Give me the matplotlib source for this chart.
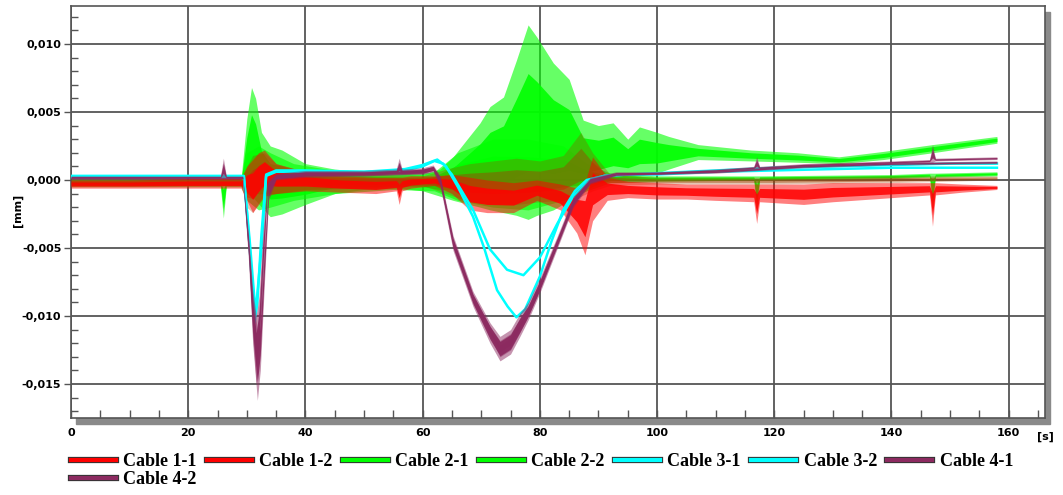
import numpy as np
import matplotlib
matplotlib.use("Agg")
import matplotlib.pyplot as plt
from matplotlib.patches import Rectangle
from matplotlib.lines import Line2D
from matplotlib.ticker import MultipleLocator, FuncFormatter
import matplotlib.patheffects as pe

# ---- data (time in s, displacement in mm) ----
# oscillating signals are kept as lower / upper envelope
c11_t  = [0, 10, 20, 29, 30, 31, 32, 33, 35, 40, 46, 52, 55.5, 56, 56.5, 58, 62, 65, 68, 71, 75.5, 79.5, 83.5, 86.3, 87.7, 89, 91.5, 95, 100, 105, 110, 116.5, 117, 117.5, 125, 130, 140, 146.5, 147, 147.5, 152, 158]
c11_lo = [-0.0006, -0.0006, -0.0006, -0.0006, -0.0015, -0.0024, -0.0018, -0.0012, -0.0010, -0.0008, -0.0009, -0.0010, -0.0008, -0.0018, -0.0008, -0.0006, -0.0004, -0.0010, -0.0022, -0.0024, -0.0024, -0.0015, -0.0022, -0.0039, -0.0055, -0.0030, -0.0015, -0.0013, -0.0014, -0.0014, -0.0015, -0.0016, -0.0032, -0.0016, -0.0018, -0.0016, -0.0013, -0.0011, -0.0034, -0.0011, -0.0009, -0.0007]
c11_hi = [0.0000, 0.0000, 0.0001, 0.0001, 0.0010, 0.0015, 0.0020, 0.0022, 0.0012, 0.0006, 0.0003, 0.0002, 0.0002, 0.0002, 0.0002, 0.0003, 0.0003, 0.0004, 0.0002, 0.0000, -0.0002, 0.0000, -0.0003, -0.0006, -0.0002, 0.0017, 0.0002, -0.0001, -0.0002, -0.0003, -0.0003, -0.0003, -0.0003, -0.0003, -0.0003, -0.0002, -0.0002, -0.0002, -0.0002, -0.0002, -0.0003, -0.0004]

c12_t  = [0, 29, 30, 31, 33, 35, 40, 50, 60, 64, 68, 72, 76, 80, 84, 87, 89, 92, 100, 120, 140, 158]
c12_lo = [-0.0004, -0.0004, -0.0020, -0.0024, -0.0010, -0.0010, -0.0007, -0.0006, -0.0004, -0.0010, -0.0016, -0.0018, -0.0018, -0.0016, -0.0015, -0.0012, -0.0008, -0.0004, -0.0003, -0.0003, -0.0002, 0.0000]
c12_hi = [0.0001, 0.0001, 0.0010, 0.0018, 0.0020, 0.0012, 0.0006, 0.0004, 0.0003, 0.0008, 0.0012, 0.0014, 0.0016, 0.0014, 0.0018, 0.0035, 0.0020, 0.0004, 0.0002, 0.0002, 0.0003, 0.0003]

c21_t  = [0, 29, 30, 30.8, 31.5, 32.5, 34, 36, 40, 45, 50, 56, 60, 63, 65.2, 69.8, 71.5, 73.8, 76, 78, 79.5, 82.3, 85, 87.4, 90, 92.5, 95, 97, 100, 102, 107, 116, 124, 131, 138.6, 147, 158]
c21_lo = [-0.0004, -0.0004, -0.0010, -0.0012, -0.0015, -0.0020, -0.0027, -0.0025, -0.0018, -0.0010, -0.0007, -0.0006, -0.0008, -0.0012, -0.0015, -0.0020, -0.0022, -0.0024, -0.0026, -0.0029, -0.0026, -0.0022, -0.0015, -0.0008, -0.0003, 0.0000, 0.0002, 0.0003, 0.0005, 0.0008, 0.0015, 0.0014, 0.0013, 0.0012, 0.0015, 0.0020, 0.0027]
c21_hi = [0.0000, 0.0000, 0.0045, 0.0068, 0.0060, 0.0035, 0.0025, 0.0022, 0.0012, 0.0008, 0.0006, 0.0005, 0.0004, 0.0008, 0.0017, 0.0042, 0.0054, 0.0061, 0.0088, 0.0114, 0.0105, 0.0086, 0.0074, 0.0044, 0.0040, 0.0042, 0.0030, 0.0039, 0.0035, 0.0032, 0.0026, 0.0022, 0.0020, 0.0017, 0.0021, 0.0026, 0.0032]

c22_t  = [0, 25.5, 26, 26.5, 29, 30, 32, 34, 38, 45, 55, 62, 66, 72, 78, 84, 88, 92, 100, 116.5, 117, 117.5, 140, 146.5, 147, 147.5, 158]
c22_lo = [-0.0005, -0.0005, -0.0028, -0.0005, -0.0005, -0.0015, -0.0022, -0.0020, -0.0015, -0.0010, -0.0007, -0.0008, -0.0015, -0.0020, -0.0022, -0.0015, -0.0008, -0.0002, -0.0001, 0.0000, -0.0022, 0.0000, 0.0001, 0.0002, -0.0020, 0.0002, 0.0003]
c22_hi = [0.0000, 0.0000, 0.0000, 0.0000, 0.0000, 0.0020, 0.0025, 0.0020, 0.0012, 0.0007, 0.0004, 0.0006, 0.0020, 0.0030, 0.0030, 0.0025, 0.0012, 0.0005, 0.0003, 0.0003, 0.0003, 0.0003, 0.0004, 0.0005, 0.0005, 0.0005, 0.0006]

c31_t = [0, 20, 29.5, 30.5, 31.5, 32.5, 33.3, 35, 40, 50, 57, 60, 62, 63.5, 65, 68.6, 71.5, 74.4, 77.2, 80, 83, 85.7, 88, 91, 95, 100, 110, 120, 130, 140, 150, 158]
c31_v = [0.0002, 0.0002, 0.0002, -0.0045, -0.0098, -0.0050, 0.0003, 0.0006, 0.0006, 0.0006, 0.0007, 0.0010, 0.0014, 0.0012, 0.0004, -0.0022, -0.0051, -0.0066, -0.0070, -0.0057, -0.0032, -0.0012, -0.0002, 0.0003, 0.0004, 0.0005, 0.0007, 0.0009, 0.0010, 0.0011, 0.0012, 0.0012]

c32_t = [0, 20, 29.5, 30.5, 31.3, 31.8, 32.5, 33.3, 35, 40, 50, 57, 60, 62.5, 64, 66, 68.6, 70.5, 72.7, 74.5, 76, 77.5, 80, 82, 84, 86, 88, 91, 95, 100, 110, 120, 130, 140, 150, 158]
c32_v = [0.0003, 0.0003, 0.0003, -0.0050, -0.0105, -0.0090, -0.0040, 0.0004, 0.0007, 0.0007, 0.0006, 0.0008, 0.0011, 0.0015, 0.0010, -0.0005, -0.0027, -0.0050, -0.0081, -0.0093, -0.0101, -0.0095, -0.0071, -0.0045, -0.0022, -0.0008, 0.0000, 0.0003, 0.0004, 0.0004, 0.0006, 0.0007, 0.0008, 0.0009, 0.0009, 0.0009]

c41_t  = [0, 20, 25.5, 26, 26.5, 29.3, 30.3, 31.0, 31.6, 32.1, 32.7, 33.5, 35, 40, 50, 55.5, 56, 56.5, 60, 61.8, 63, 65.2, 68.6, 71.5, 73.2, 75, 76.6, 78, 80, 83, 85.7, 88.6, 93, 100, 110, 116.5, 117, 117.5, 125, 140, 146.5, 147, 147.5, 158]
c41_lo = [0.0001, 0.0001, 0.0001, 0.0001, 0.0001, 0.0001, -0.0055, -0.0115, -0.0150, -0.0130, -0.0075, -0.0010, 0.0001, 0.0003, 0.0003, 0.0004, 0.0004, 0.0004, 0.0005, 0.0007, -0.0003, -0.0049, -0.0090, -0.0115, -0.0130, -0.0125, -0.0112, -0.0100, -0.0080, -0.0047, -0.0018, -0.0002, 0.0004, 0.0004, 0.0006, 0.0008, 0.0008, 0.0008, 0.0010, 0.0012, 0.0013, 0.0013, 0.0014, 0.0015]
c41_hi = [0.0003, 0.0003, 0.0003, 0.0016, 0.0003, 0.0003, -0.0040, -0.0080, -0.0100, -0.0085, -0.0040, 0.0000, 0.0005, 0.0007, 0.0007, 0.0008, 0.0016, 0.0008, 0.0009, 0.0011, 0.0003, -0.0041, -0.0082, -0.0105, -0.0115, -0.0110, -0.0098, -0.0090, -0.0072, -0.0041, -0.0012, 0.0002, 0.0006, 0.0006, 0.0008, 0.0010, 0.0017, 0.0010, 0.0012, 0.0014, 0.0015, 0.0026, 0.0016, 0.0017]

c42_t  = [0, 20, 29.3, 30.3, 31.0, 31.8, 32.3, 32.9, 33.7, 35, 40, 50, 60, 61.8, 63, 65.2, 68.6, 71.5, 73.2, 75, 76.6, 78, 80, 83, 85.7, 88.6, 93, 100, 110, 125, 140, 158]
c42_lo = [0.0001, 0.0001, 0.0001, -0.0060, -0.0120, -0.0162, -0.0140, -0.0085, -0.0015, 0.0000, 0.0002, 0.0003, 0.0004, 0.0006, -0.0005, -0.0052, -0.0093, -0.0120, -0.0133, -0.0128, -0.0115, -0.0103, -0.0083, -0.0050, -0.0020, -0.0003, 0.0003, 0.0004, 0.0005, 0.0009, 0.0011, 0.0012]
c42_hi = [0.0002, 0.0002, 0.0002, -0.0045, -0.0085, -0.0110, -0.0095, -0.0050, -0.0003, 0.0004, 0.0006, 0.0006, 0.0008, 0.0010, 0.0002, -0.0044, -0.0085, -0.0108, -0.0118, -0.0113, -0.0102, -0.0093, -0.0075, -0.0043, -0.0014, 0.0001, 0.0005, 0.0006, 0.0007, 0.0011, 0.0013, 0.0014]

labels = ["Cable 1-1", "Cable 1-2", "Cable 2-1", "Cable 2-2",
          "Cable 3-1", "Cable 3-2", "Cable 4-1", "Cable 4-2"]
colors = ["#ff0000", "#ff0000", "#00ff00", "#00ff00",
          "#00ffff", "#00ffff", "#8c2a60", "#8c2a60"]

W, H = 1063, 495
fig = plt.figure(figsize=(W / 100, H / 100), dpi=100)
ax_l, ax_r, ax_t, ax_b = 71, 1045, 6, 418
ax = fig.add_axes([ax_l / W, 1 - ax_b / H, (ax_r - ax_l) / W, (ax_b - ax_t) / H])

# drop shadow of the plot frame
fig.patches.append(Rectangle(((ax_l + 5) / W, 1 - (ax_b + 6) / H), (ax_r - ax_l) / W, (ax_b - ax_t) / H,
                             transform=fig.transFigure, color="#8a8a8a", zorder=-5))


def band(t, lo, hi, col, a_out, a_in, z):
    t, lo, hi = np.array(t), np.array(lo), np.array(hi)
    ax.fill_between(t, lo, hi, color=col, alpha=a_out, lw=0, zorder=z)
    ax.fill_between(t, 0.75 * lo + 0.25 * hi, 0.25 * lo + 0.75 * hi, color=col, alpha=a_in, lw=0, zorder=z)


band(c21_t, c21_lo, c21_hi, colors[2], 0.6, 0.9, 2)
band(c22_t, c22_lo, c22_hi, colors[3], 0.6, 0.9, 2)
band(c12_t, c12_lo, c12_hi, "#a04000", 0.3, 0.45, 3)
band(c11_t, c11_lo, c11_hi, colors[0], 0.5, 0.85, 3)
ax.plot(c31_t, c31_v, color=colors[4], lw=1.8, zorder=4)
ax.plot(c32_t, c32_v, color=colors[5], lw=1.8, zorder=4)
band(c41_t, c41_lo, c41_hi, colors[6], 0.5, 0.95, 5)
band(c42_t, c42_lo, c42_hi, colors[7], 0.5, 0.95, 5)

ax.set_xlim(0, 166.2)
ax.set_ylim(-0.0175, 0.01279)

ax.xaxis.set_major_locator(MultipleLocator(20))
ax.xaxis.set_minor_locator(MultipleLocator(5))
ax.yaxis.set_major_locator(MultipleLocator(0.005))
ax.yaxis.set_minor_locator(MultipleLocator(0.001))
ax.yaxis.set_major_formatter(FuncFormatter(lambda v, p: f"{v:.3f}".replace(".", ",").replace("-0,000", "0,000")))
ax.grid(True, which="major", color="#555555", lw=1.3, zorder=1)
ax.set_axisbelow(True)

ax.tick_params(axis="y", which="major", direction="out", length=5, width=1, color="#555555",
               labelsize=8, pad=2)
ax.tick_params(axis="y", which="minor", direction="in", length=5, width=1, color="#555555")
ax.tick_params(axis="x", which="major", direction="in", length=6, width=1, color="#555555",
               labelsize=8, pad=7)
ax.tick_params(axis="x", which="minor", direction="in", length=6, width=1, color="#555555")
for lab in ax.get_xticklabels() + ax.get_yticklabels():
    lab.set_fontweight("bold")
for sp in ax.spines.values():
    sp.set_color("#555555")
    sp.set_linewidth(1.2)

fig.text(18 / W, 1 - 210 / H, "[mm]", rotation=90, ha="center", va="center", fontsize=8, fontweight="bold")
fig.text(1045 / W, 1 - 437 / H, "[s]", ha="center", va="center", fontsize=8, fontweight="bold")

handles = [Line2D([], [], color=c, lw=3,
                  path_effects=[pe.Stroke(linewidth=4.5, foreground="#333333"), pe.Normal()])
           for c in colors]
# legend fills column by column: order so rows read 1-1 ... 4-1, then 4-2
order = [0, 7, 1, 2, 3, 4, 5, 6]
fig.legend([handles[i] for i in order], [labels[i] for i in order],
           loc="upper left", bbox_to_anchor=(71 / W, 1 - 453 / H), ncol=7,
           frameon=False, borderpad=0, borderaxespad=0, handlelength=2.5, handletextpad=0.4,
           columnspacing=0.57, labelspacing=0.05,
           prop={"family": "Liberation Serif", "weight": "bold", "size": 13})

fig.savefig("out.png", dpi=100)
